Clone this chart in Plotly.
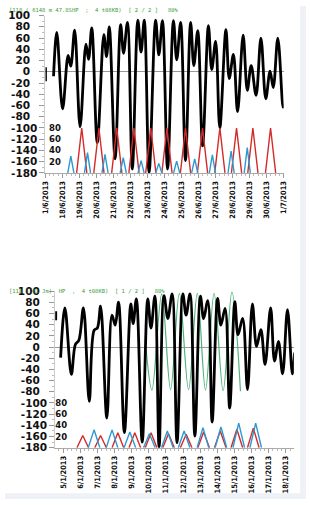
import plotly.graph_objects as go

# ---------------- TOP PANEL (June 2013) ----------------
top_labels = ["1/6/2013", "18/6/2013", "19/6/2013", "20/6/2013", "21/6/2013",
              "22/6/2013", "23/6/2013", "24/6/2013", "25/6/2013", "26/6/2013",
              "27/6/2013", "28/6/2013", "29/6/2013", "30/6/2013", "1/7/2013"]

top_lead_day = [0.0, 0.0]
top_lead_val = [-17, 8]

top_level_day = [0.474, 0.663, 1.006, 1.331, 1.486, 1.714, 2.034, 2.377, 2.531, 2.72,
                 3.046, 3.429, 3.589, 3.749, 4.091, 4.417, 4.589, 4.817, 5.103, 5.429,
                 5.617, 5.806, 6.091, 6.474, 6.663, 6.874, 7.177, 7.52, 7.714, 7.943,
                 8.229, 8.531, 8.72, 8.949, 9.234, 9.577, 9.771, 10.0, 10.246, 10.606,
                 10.8, 11.046, 11.291, 11.617, 11.863, 12.091, 12.377, 12.663, 12.949, 13.2,
                 13.389, 13.657, 13.96, 14.0]
top_level_val = [-8, 70, -66, 29, 10, 74, -98, 49, 22, 78,
                 -126, 66, 27, 80, -155, 84, 33, 88, -173, 92,
                 35, 92, -179, 92, 30, 91, -173, 91, 21, 88,
                 -158, 88, 11, 73, -132, 82, 4, 54, -100, 75,
                 -12, 31, -71, 65, -33, 11, -42, 60, -48, 1,
                 -28, 60, -63, -58]

top_red_day = [2.13, 3.14, 4.19, 5.2, 6.19, 7.14, 8.23, 9.23, 10.25, 11.23, 12.19, 13.23]
top_red_val = [80, 80, 80, 80, 80, 80, 80, 80, 80, 80, 80, 80]
top_red_halfwidth = 0.3

top_blue_day = [1.49, 2.47, 3.5, 4.57, 5.62, 6.66, 7.71, 8.77, 9.81, 10.91, 11.86]
top_blue_val = [30, 36, 33, 27, 22, 17, 21, 25, 32, 39, 45]
top_blue_halfwidth = 0.18

# ---------------- BOTTOM PANEL ----------------
bot_labels = ["5/1/2013", "6/1/2013", "7/1/2013", "8/1/2013", "9/1/2013", "10/1/2013",
              "11/1/2013", "12/1/2013", "13/1/2013", "14/1/2013", "15/1/2013",
              "16/1/2013", "17/1/2013", "18/1/2013"]

bot_lead_day = [-0.44, -0.44]
bot_lead_val = [48, 64]

bot_level_day = [-0.154, 0.097, 0.473, 0.712, 0.911, 1.179, 1.52, 1.805, 1.993, 2.181,
                 2.546, 2.847, 3.035, 3.229, 3.571, 3.946, 4.083, 4.271, 4.613, 4.937,
                 5.125, 5.353, 5.598, 5.883, 6.11, 6.361, 6.646, 6.987, 7.175, 7.403,
                 7.688, 8.013, 8.2, 8.445, 8.696, 9.015, 9.209, 9.453, 9.721, 10.023,
                 10.211, 10.478, 10.763, 11.048, 11.293, 11.543, 11.788, 12.113, 12.341, 12.568,
                 12.813, 13.098, 13.383, 13.514]
bot_level_val = [-19, 70, -49, 5, 12, 70, -97, 30, 34, 73,
                 -127, 57, 39, 80, -153, 77, 42, 86, -170, 86,
                 34, 91, -179, 92, 51, 95, -171, 95, 57, 95,
                 -159, 91, 51, 83, -134, 87, 39, 69, -109, 81,
                 22, 51, -76, 77, 1, 31, -31, 70, -25, 10,
                 -48, 67, -48, -10]

bot_green_day = [4.84, 5.18, 5.75, 6.27, 6.78, 7.32, 7.83, 8.31, 8.81, 9.34, 9.85, 10.35]
bot_green_val = [-4, -77, 95, -76, 96, -76, 96, -77, 96, -78, 98, -79]

bot_red_day = [1.14, 2.18, 3.19, 4.18, 5.13, 6.15, 7.18, 8.2, 9.17, 10.14, 11.1]
bot_red_val = [22, 22, 27, 27, 27, 25, 24, 28, 30, 33, 35]
bot_red_halfwidth = 0.34

bot_blue_day = [1.8, 2.85, 3.89, 5.03, 6.08, 7.06, 8.16, 9.21, 10.25, 11.24]
bot_blue_val = [32, 32, 28, 25, 30, 30, 36, 37, 44, 44]
bot_blue_halfwidth = 0.34

top_title = "[118 ( 6148 m 47.8SHP  ;  4 t08KB)  [ 2 / 2 ]   80%"
bot_title = "[118 ( 61 Jm)  HP  ,  4 t08KB)  [ 1 / 2 ]   80%"

primary_ticks = list(range(-180, 101, 20))
secondary_ticks = [20, 40, 60, 80]


def triangles(days, vals, hw):
    xs, ys = [], []
    for d, v in zip(days, vals):
        xs += [d - hw, d, d + hw, None]
        ys += [0, v, 0, None]
    return xs, ys


PAD = "<span style='color:rgba(0,0,0,0)'>0</span>"


def ylab(v):
    s = str(v)
    return s + PAD if len(s) < 4 else s


W, H = 310, 505
fig = go.Figure()

BLACK = dict(color="black", width=2.8, shape="spline", smoothing=1.0)
RED = dict(color="#d42a2a", width=1.4)
BLUE = dict(color="#2c9ad1", width=1.4)

# top
fig.add_trace(go.Scatter(x=top_lead_day, y=top_lead_val, mode="lines",
                         line=dict(color="black", width=2.8), xaxis="x", yaxis="y"))
fig.add_trace(go.Scatter(x=top_level_day, y=top_level_val, mode="lines",
                         line=BLACK, xaxis="x", yaxis="y"))
rx, ry = triangles(top_red_day, top_red_val, top_red_halfwidth)
fig.add_trace(go.Scatter(x=rx, y=ry, mode="lines", line=RED, xaxis="x", yaxis="y3"))
bx, by = triangles(top_blue_day, top_blue_val, top_blue_halfwidth)
fig.add_trace(go.Scatter(x=bx, y=by, mode="lines", line=BLUE, xaxis="x", yaxis="y3"))

# bottom
fig.add_trace(go.Scatter(x=bot_green_day, y=bot_green_val, mode="lines",
                         line=dict(color="#4fb37a", width=1.2, shape="spline"),
                         xaxis="x2", yaxis="y2"))
fig.add_trace(go.Scatter(x=bot_lead_day, y=bot_lead_val, mode="lines",
                         line=dict(color="black", width=2.8), xaxis="x2", yaxis="y2"))
fig.add_trace(go.Scatter(x=bot_level_day, y=bot_level_val, mode="lines",
                         line=BLACK, xaxis="x2", yaxis="y2"))
rx, ry = triangles(bot_red_day, bot_red_val, bot_red_halfwidth)
fig.add_trace(go.Scatter(x=rx, y=ry, mode="lines", line=RED, xaxis="x2", yaxis="y4"))
bx, by = triangles(bot_blue_day, bot_blue_val, bot_blue_halfwidth)
fig.add_trace(go.Scatter(x=bx, y=by, mode="lines", line=BLUE, xaxis="x2", yaxis="y4"))

YFONT = dict(family="DejaVu Sans", size=10.5, color="#111", weight="bold")
Y2FONT = dict(family="DejaVu Sans", size=8.5, color="#111", weight="bold")
XFONT = dict(family="Liberation Sans Narrow, DejaVu Sans Condensed, Arial Narrow", size=7.5,
             color="#111", weight="bold")


def xaxis(domain, rng, labels, anchor):
    return dict(domain=domain, anchor=anchor, range=rng, tickmode="array",
                tickvals=list(range(len(labels))), ticktext=labels, tickangle=-90,
                tickfont=XFONT, ticks="outside", ticklen=4, tickcolor="#999",
                showline=True, linecolor="#aaa", linewidth=1, showgrid=False, zeroline=False,
                minor=dict(ticks="outside", ticklen=2, tickcolor="#bbb", dtick=0.25, tick0=0),
                fixedrange=True)


def yaxis(domain, anchor):
    return dict(domain=domain, anchor=anchor, range=[-180, 100], tickmode="array",
                tickvals=primary_ticks, ticktext=[ylab(v) for v in primary_ticks],
                tickfont=YFONT, ticks="outside", ticklen=5, tickcolor="#999",
                showline=True, linecolor="#ccc", showgrid=False,
                zeroline=True, zerolinecolor="#999", zerolinewidth=1,
                minor=dict(ticks="outside", ticklen=2, tickcolor="#bbb", dtick=10),
                fixedrange=True)


def y2axis(over, pos):
    return dict(overlaying=over, anchor="free", position=pos, side="left", range=[0, 280],
                tickmode="array", tickvals=secondary_ticks,
                tickfont=Y2FONT, ticks="", showline=False, showgrid=False, zeroline=False,
                fixedrange=True)


top_dom_x = [41.7 / W, 287 / W]
top_dom_y = [1 - 171 / H, 1 - 9.8 / H]
bot_dom_x = [51.7 / W, 297.5 / W]
bot_dom_y = [1 - 452.5 / H, 1 - 292 / H]

PALE = "#eef1f6"

fig.update_layout(
    width=W, height=H, margin=dict(l=0, r=0, t=0, b=0),
    paper_bgcolor="white", plot_bgcolor="rgba(0,0,0,0)", showlegend=False,
    xaxis=xaxis(top_dom_x, [0, 14], top_labels, "y"),
    yaxis=yaxis(top_dom_y, "x"),
    yaxis3=y2axis("y", 57.5 / W),
    xaxis2=xaxis(bot_dom_x, [-0.47, 13.47], bot_labels, "y2"),
    yaxis2=yaxis(bot_dom_y, "x2"),
    yaxis4=y2axis("y2", 64 / W),
    shapes=[
        dict(type="rect", xref="paper", yref="paper", x0=304 / W, x1=1, y0=0, y1=1,
             fillcolor=PALE, line=dict(width=0), layer="below"),
        dict(type="rect", xref="paper", yref="paper", x0=0, x1=1, y0=0, y1=6 / H,
             fillcolor=PALE, line=dict(width=0), layer="below"),
    ],
    annotations=[
        dict(text=top_title, xref="paper", yref="paper", x=2 / W, y=1 - 4 / H,
             xanchor="left", yanchor="middle", showarrow=False,
             font=dict(family="DejaVu Sans Mono", size=5.5, color="#3a9a3a")),
        dict(text=bot_title, xref="paper", yref="paper", x=2 / W, y=1 - 292 / H,
             xanchor="left", yanchor="middle", showarrow=False,
             font=dict(family="DejaVu Sans Mono", size=5.5, color="#3a9a3a")),
    ],
)

fig.write_html("out.html")
